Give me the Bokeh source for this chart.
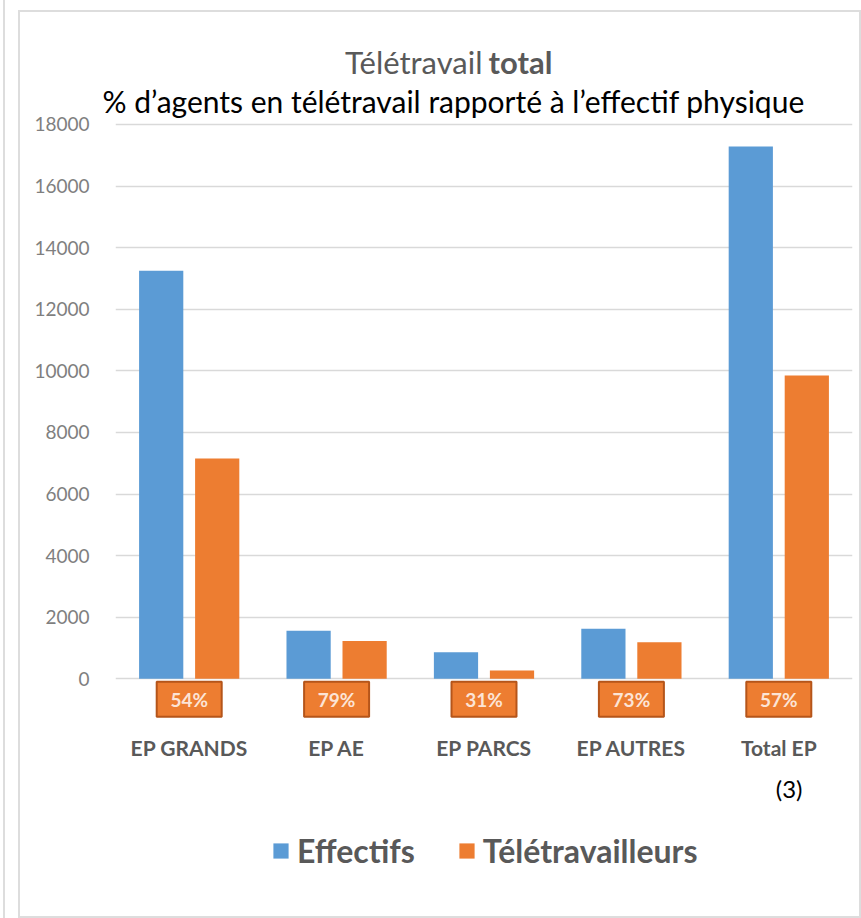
from bokeh.plotting import figure
from bokeh.layouts import column
from bokeh.models import (FactorRange, Range1d, FixedTicker, Label, Legend, LegendItem,
                          ColumnDataSource)
from bokeh.transform import dodge
from bokeh.core.properties import value
from bokeh.embed import file_html
from bokeh.resources import INLINE

# ---- data ----
categories = ["EP GRANDS", "EP AE", "EP PARCS", "EP AUTRES", "Total EP"]
effectifs = [13250, 1560, 860, 1630, 17280]
teletravailleurs = [7150, 1230, 267, 1190, 9850]
pct_labels = ["54%", "79%", "31%", "73%", "57%"]
y_ticks = [0, 2000, 4000, 6000, 8000, 10000, 12000, 14000, 16000, 18000]
series_names = ["Effectifs", "Télétravailleurs"]
title_regular = "Télétravail"
title_bold = "total"
subtitle_text = "% d’agents en télétravail rapporté à l’effectif physique"
note_text = "(3)"

BLUE = "#5B9BD5"
ORANGE = "#ED7D31"
GRAY = "#595959"
FONT = "Lato"
W = 839
BL, BR = 95, 7   # left/right borders shared by all three stacked panels

src = ColumnDataSource(dict(cats=categories, eff=effectifs, tel=teletravailleurs, pct=pct_labels))


def strip(height, x_range):
    f = figure(width=W, height=height, x_range=x_range, y_range=Range1d(0, height),
               output_backend="svg", toolbar_location=None,
               x_axis_location=None, y_axis_location=None,
               min_border_left=BL, min_border_right=BR, min_border_top=0, min_border_bottom=0)
    f.outline_line_color = None
    f.grid.visible = False
    f.background_fill_color = "white"
    f.border_fill_color = "white"
    return f


# ---------------- title strip ----------------
t = strip(68, Range1d(0, W - BL - BR))
t.add_layout(Label(x=367, y=19, text=title_regular, text_align="right", text_baseline="middle",
                   text_font=FONT, text_font_size="31px", text_color=GRAY))
t.add_layout(Label(x=373, y=19, text=title_bold, text_align="left", text_baseline="middle",
                   text_font=FONT, text_font_size="31px", text_font_style="bold", text_color=GRAY))

# ---------------- main chart ----------------
p = figure(width=W, height=682, x_range=FactorRange(*categories), y_range=Range1d(-1288, 18193),
           output_backend="svg", toolbar_location=None,
           min_border_left=BL, min_border_right=BR, min_border_top=35, min_border_bottom=42)
p.outline_line_color = None
p.background_fill_color = "white"
p.border_fill_color = "white"

# subtitle as the plot title
p.title.text = subtitle_text
p.title.align = "left"
p.title.offset = -13
p.title.standoff = 0
p.title.text_font = FONT
p.title.text_font_size = "30px"
p.title.text_font_style = "normal"
p.title.text_color = "black"

p.xgrid.visible = False
p.ygrid.ticker = FixedTicker(ticks=y_ticks)
p.ygrid.grid_line_color = "#D9D9D9"
p.ygrid.grid_line_width = 1.5

p.yaxis.ticker = FixedTicker(ticks=y_ticks)
p.yaxis.axis_line_color = None
p.yaxis.major_tick_line_color = None
p.yaxis.minor_tick_line_color = None
p.yaxis.major_label_text_font = FONT
p.yaxis.major_label_text_font_size = "19px"
p.yaxis.major_label_text_color = "#7F7F7F"
p.yaxis.major_label_standoff = 20

p.xaxis.axis_line_color = None
p.xaxis.major_tick_line_color = None
p.xaxis.minor_tick_line_color = None
p.xaxis.major_label_text_font = FONT
p.xaxis.major_label_text_font_size = "21px"
p.xaxis.major_label_text_font_style = "bold"
p.xaxis.major_label_text_color = GRAY
p.xaxis.major_label_standoff = 10

p.vbar(x=dodge("cats", -0.19, range=p.x_range), top="eff", width=0.30, bottom=0,
       fill_color=BLUE, line_color=None, source=src)
p.vbar(x=dodge("cats", 0.19, range=p.x_range), top="tel", width=0.30, bottom=0,
       fill_color=ORANGE, line_color=None, source=src)

# percentage boxes under each group
p.rect(x="cats", y=-660, width=65, height=35, width_units="screen", height_units="screen",
       fill_color=ORANGE, line_color="#B5551A", line_width=2, source=src)
p.text(x="cats", y=-660, text="pct", text_align="center", text_baseline="middle",
       text_font=value(FONT), text_font_size="19px", text_font_style="bold",
       text_color="#FCE4D6", source=src)

# ---------------- legend strip ----------------
q = strip(154, FactorRange(*categories))
lr1 = q.vbar(x="cats", top="eff", width=0.3, fill_color=BLUE, line_color=None, source=src, visible=False)
lr2 = q.vbar(x="cats", top="tel", width=0.3, fill_color=ORANGE, line_color=None, source=src, visible=False)

q.add_layout(Label(x=4.57, y=128, text=note_text, text_align="center", text_baseline="middle",
                   text_font=FONT, text_font_size="24px", text_color="black"))

legend = Legend(items=[LegendItem(label=series_names[0], renderers=[lr1]),
                       LegendItem(label=series_names[1], renderers=[lr2])],
                orientation="horizontal", location=(156, 46))
legend.border_line_color = None
legend.background_fill_alpha = 0
legend.inactive_fill_alpha = 0
legend.glyph_width = 19
legend.glyph_height = 19
legend.label_standoff = 7
legend.spacing = 42
legend.padding = 0
legend.margin = 0
legend.label_text_font = FONT
legend.label_text_font_size = "32px"
legend.label_text_font_style = "bold"
legend.label_text_color = GRAY
q.add_layout(legend)

inner = column(t, p, q, spacing=0)
inner.styles = {"border": "2px solid #DDDDDD", "margin-left": "13px", "margin-top": "10px"}
outer = column(inner, spacing=0)
outer.styles = {"border-left": "2px solid #DDDDDD", "margin-left": "3px"}

open("out.html", "w").write(file_html(outer, INLINE))
